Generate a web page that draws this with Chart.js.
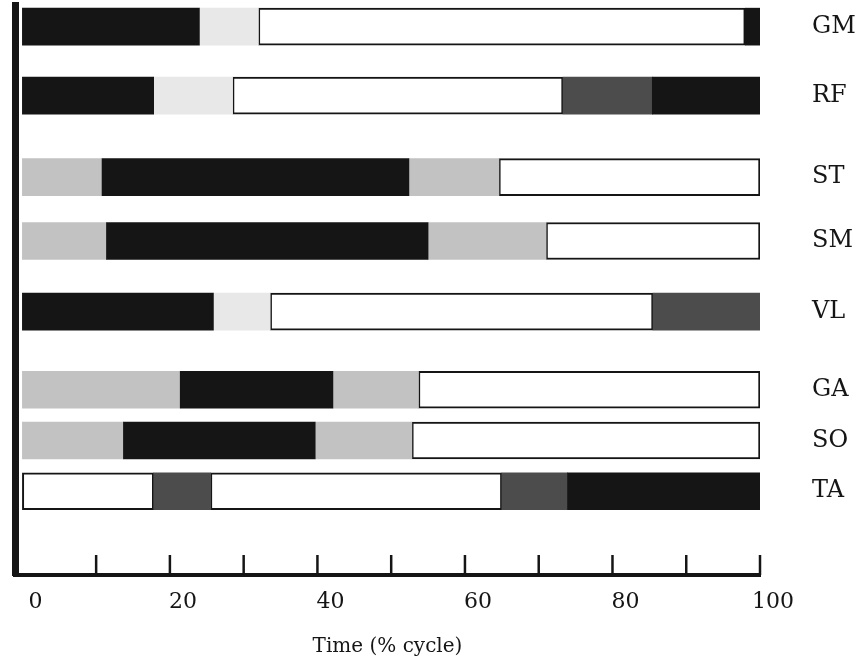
<!DOCTYPE html>
<html>
<head>
<meta charset="utf-8">
<title>Muscle activity over the cycle</title>
<script src="https://cdn.jsdelivr.net/npm/chart.js@4/dist/chart.umd.min.js"></script>
<style>
    html, body { margin: 0; padding: 0; background: #fff; }
    canvas { display: block; }
</style>
</head>
<body>
<canvas id="chart" width="864" height="669"></canvas>
<script>
// muscles, top to bottom, and where each row sits on the vertical scale
const muscles = ["GM", "RF", "ST", "SM", "VL", "GA", "SO", "TA"]
const rowLevel = [96.2, 84.1, 69.8, 58.6, 46.2, 32.5, 23.6, 14.7]

// phase edges (% cycle) and the state between each pair of edges
const gmEdges = [0, 24, 32, 98, 100]
const gmState = ["on", "low", "off", "on"]
const rfEdges = [0, 17.8, 28.5, 73.3, 85.4, 100]
const rfState = ["on", "low", "off", "high", "on"]
const stEdges = [0, 10.8, 52.4, 64.6, 100]
const stState = ["mid", "on", "mid", "off"]
const smEdges = [0, 11.4, 55, 71, 100]
const smState = ["mid", "on", "mid", "off"]
const vlEdges = [0, 25.9, 33.6, 85.5, 100]
const vlState = ["on", "low", "off", "high"]
const gaEdges = [0, 21.4, 42.1, 53.7, 100]
const gaState = ["mid", "on", "mid", "off"]
const soEdges = [0, 13.7, 39.7, 52.8, 100]
const soState = ["mid", "on", "mid", "off"]
const taEdges = [0, 17.8, 25.5, 65, 73.9, 100]
const taState = ["off", "high", "off", "high", "on"]

const tickLabels = [0, 20, 40, 60, 80, 100]
const tickMarks = [10, 20, 30, 40, 50, 60, 70, 80, 90, 100]

const allEdges = [gmEdges, rfEdges, stEdges, smEdges, vlEdges, gaEdges, soEdges, taEdges]
const allStates = [gmState, rfState, stState, smState, vlState, gaState, soState, taState]

// one dataset per shading state
const stateStyle = {
    on: { backgroundColor: "#151515", borderWidth: 0 },
    high: { backgroundColor: "#4c4c4c", borderWidth: 0 },
    mid: { backgroundColor: "#c2c2c2", borderWidth: 0 },
    low: { backgroundColor: "#e8e8e8", borderWidth: 0 },
    off: { backgroundColor: "#ffffff", borderWidth: 2, borderColor: "#151515" },
}

const datasets = Object.keys(stateStyle).map((state) => {
    const data = []
    allStates.forEach((states, row) => {
        states.forEach((s, i) => {
            if (s === state) {
                data.push({ x: [allEdges[row][i], allEdges[row][i + 1]], y: rowLevel[row] })
            }
        })
    })
    return {
        label: state,
        data: data,
        stack: "rows",
        barThickness: 37,
        borderSkipped: false,
        ...stateStyle[state],
    }
})

// small upward tick marks on the time axis
const tickMarksPlugin = {
    id: "tickMarks",
    afterDatasetsDraw(chart) {
        const { ctx, chartArea, scales } = chart
        ctx.save()
        ctx.strokeStyle = "#151515"
        ctx.lineWidth = 2.5
        tickMarks.forEach((v) => {
            const px = scales.x.getPixelForValue(v)
            ctx.beginPath()
            ctx.moveTo(px, chartArea.bottom)
            ctx.lineTo(px, chartArea.bottom - 20)
            ctx.stroke()
        })
        ctx.restore()
    },
}

// labels may hang over the plot edges, so drop the extra margins
const noEdgePadding = (scale) => {
    scale.paddingTop = 0
    scale.paddingBottom = 0
    scale.paddingLeft = 0
    scale.paddingRight = 0
}

const serif = "'DejaVu Serif', 'Liberation Serif', serif"

new Chart(document.getElementById("chart"), {
    type: "bar",
    data: { datasets: datasets },
    plugins: [tickMarksPlugin],
    options: {
        indexAxis: "y",
        responsive: false,
        animation: false,
        layout: { padding: { left: 15, right: 0, top: 5, bottom: 0 } },
        plugins: {
            legend: { display: false },
            tooltip: { enabled: false },
        },
        scales: {
            x: {
                type: "linear",
                min: -1,
                max: 100,
                stacked: false,
                afterBuildTicks: (scale) => {
                    scale.ticks = tickLabels.map((v) => ({ value: v }))
                },
                afterFit: (scale) => {
                    noEdgePadding(scale)
                    scale.height = 94
                },
                grid: { display: false, drawTicks: false },
                border: { display: true, color: "#151515", width: 4 },
                ticks: {
                    color: "#151515",
                    padding: 14,
                    labelOffset: 13,
                    maxRotation: 0,
                    font: { family: serif, size: 22 },
                },
                title: {
                    display: true,
                    text: "Time (% cycle)",
                    color: "#151515",
                    font: { family: serif, size: 20 },
                    padding: { top: 8, bottom: 10 },
                },
            },
            y: {
                type: "linear",
                position: "right",
                min: 0,
                max: 100,
                offset: false,
                afterBuildTicks: (scale) => {
                    scale.ticks = rowLevel.map((v) => ({ value: v }))
                },
                afterFit: (scale) => {
                    noEdgePadding(scale)
                    scale.width = 104
                },
                grid: { display: false, drawTicks: false },
                border: { display: false },
                ticks: {
                    color: "#151515",
                    padding: 52,
                    font: { family: serif, size: 24 },
                    callback: (value) => muscles[rowLevel.indexOf(value)],
                },
            },
            yAxisLine: {
                type: "linear",
                position: "left",
                min: 0,
                max: 100,
                afterFit: noEdgePadding,
                grid: { display: false, drawTicks: false },
                border: { display: true, color: "#151515", width: 7 },
                ticks: { display: false },
            },
        },
    },
})
</script>
</body>
</html>
